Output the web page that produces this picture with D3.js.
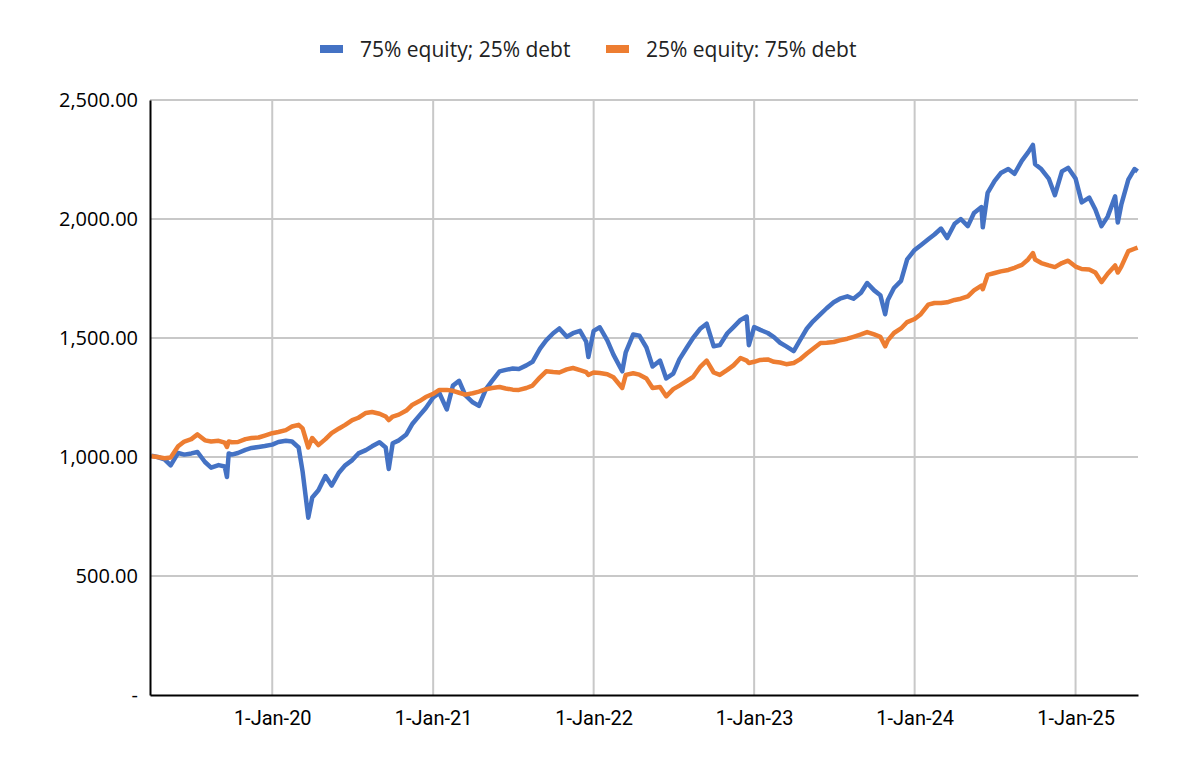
<!DOCTYPE html>
<html>
<head>
<meta charset="utf-8">
<title>Equity / debt portfolio value</title>
<script src="https://d3js.org/d3.v7.min.js"></script>
<style>
  body { margin: 0; background: #ffffff; }
  .ylab { font-family: "Open Sans", "Noto Sans", sans-serif; font-size: 20px; fill: #000; }
  .xlab { font-family: "Liberation Sans Narrow", "Roboto", sans-serif; font-size: 20px; fill: #000; }
  .leg  { font-family: "Open Sans", "Noto Sans", sans-serif; font-size: 21px; fill: #222; }
</style>
</head>
<body>
<div id="chart"></div>
<script>
// values, roughly twice a month plus a few sharp moves
var dates = [
  "2019-04-01","2019-04-15","2019-05-01","2019-05-15","2019-06-01","2019-06-15","2019-07-01","2019-07-15",
  "2019-08-01","2019-08-15","2019-09-01","2019-09-15","2019-09-20","2019-09-24","2019-10-01","2019-10-15",
  "2019-11-01","2019-11-15","2019-12-01","2019-12-15",
  "2020-01-01","2020-01-15","2020-02-01","2020-02-15","2020-03-01","2020-03-10","2020-03-23","2020-04-01",
  "2020-04-15","2020-05-01","2020-05-15","2020-06-01","2020-06-15","2020-07-01","2020-07-15","2020-08-01",
  "2020-08-15","2020-09-01","2020-09-15","2020-09-22","2020-10-01","2020-10-15","2020-11-01","2020-11-15",
  "2020-12-01","2020-12-15",
  "2021-01-01","2021-01-15","2021-02-01","2021-02-15","2021-03-01","2021-03-15","2021-04-01","2021-04-15",
  "2021-05-01","2021-05-15","2021-06-01","2021-06-15","2021-07-01","2021-07-15","2021-08-01","2021-08-15",
  "2021-09-01","2021-09-15","2021-10-01","2021-10-15","2021-11-01","2021-11-15","2021-12-01","2021-12-15",
  "2021-12-20",
  "2022-01-01","2022-01-15","2022-02-01","2022-02-15","2022-03-07","2022-03-15","2022-04-01","2022-04-15",
  "2022-05-01","2022-05-15","2022-06-01","2022-06-15","2022-07-01","2022-07-15","2022-08-01","2022-08-15",
  "2022-09-01","2022-09-15","2022-10-01","2022-10-15","2022-11-01","2022-11-15","2022-12-01","2022-12-15",
  "2022-12-20",
  "2023-01-01","2023-01-15","2023-02-01","2023-02-15","2023-03-01","2023-03-15","2023-04-01","2023-04-15",
  "2023-05-01","2023-05-15","2023-06-01","2023-06-15","2023-07-01","2023-07-15","2023-08-01","2023-08-15",
  "2023-09-01","2023-09-15","2023-10-01","2023-10-15","2023-10-26","2023-11-01","2023-11-15","2023-12-01",
  "2023-12-15",
  "2024-01-01","2024-01-15","2024-02-01","2024-02-15","2024-03-01","2024-03-15","2024-04-01","2024-04-15",
  "2024-05-01","2024-05-15","2024-06-01","2024-06-04","2024-06-15","2024-07-01","2024-07-15","2024-08-01",
  "2024-08-15","2024-09-01","2024-09-15","2024-09-26","2024-10-01","2024-10-15","2024-11-01","2024-11-15",
  "2024-12-01","2024-12-15",
  "2025-01-01","2025-01-15","2025-02-01","2025-02-15","2025-03-01","2025-03-15","2025-04-01","2025-04-07",
  "2025-04-15","2025-05-01","2025-05-15","2025-05-22"
];

var equity75 = [
  1005,1000,990,965,1017,1010,1015,1021,
  979,955,966,960,916,1015,1010,1017,
  1030,1038,1042,1046,
  1052,1063,1068,1065,1040,940,745,830,
  860,920,880,935,965,987,1015,1029,
  1045,1062,1040,950,1058,1070,1095,1140,
  1175,1205,
  1250,1269,1200,1300,1320,1260,1230,1215,
  1285,1320,1360,1366,1372,1370,1385,1400,
  1455,1490,1520,1540,1505,1520,1530,1485,
  1420,
  1530,1545,1490,1430,1360,1440,1515,1510,
  1460,1380,1405,1330,1350,1410,1460,1500,
  1540,1560,1465,1470,1520,1546,1576,1590,
  1470,
  1546,1534,1521,1504,1480,1465,1445,1490,
  1540,1570,1600,1625,1650,1665,1675,1665,
  1690,1731,1700,1680,1600,1660,1710,1740,
  1830,
  1870,1890,1915,1935,1960,1920,1980,2000,
  1970,2025,2050,1965,2110,2160,2193,2210,
  2190,2245,2280,2311,2230,2210,2170,2100,
  2200,2215,
  2170,2070,2090,2040,1970,2010,2095,1985,
  2060,2165,2210,2200
];

var equity25 = [
  1003,1000,995,998,1045,1065,1075,1095,
  1070,1065,1068,1060,1042,1065,1062,1063,
  1075,1080,1082,1090,
  1100,1105,1113,1128,1135,1120,1040,1080,
  1050,1075,1100,1120,1135,1155,1165,1185,
  1189,1182,1170,1155,1170,1178,1195,1220,
  1235,1252,
  1265,1282,1282,1278,1270,1262,1268,1275,
  1285,1290,1294,1288,1283,1282,1290,1300,
  1335,1360,1357,1355,1368,1374,1365,1357,
  1345,
  1355,1353,1348,1335,1290,1345,1352,1346,
  1330,1290,1294,1255,1285,1300,1320,1336,
  1380,1405,1355,1345,1366,1385,1416,1405,
  1395,
  1400,1408,1410,1400,1397,1390,1395,1410,
  1435,1455,1479,1480,1483,1490,1497,1505,
  1515,1525,1515,1505,1465,1490,1521,1540,
  1567,
  1580,1600,1640,1647,1647,1650,1660,1665,
  1675,1700,1720,1705,1765,1773,1780,1786,
  1795,1807,1830,1857,1830,1815,1805,1798,
  1815,1825,
  1800,1790,1788,1775,1735,1770,1805,1775,
  1800,1865,1875,1880
];

var seriesNames = ["75% equity; 25% debt", "25% equity: 75% debt"];
var seriesColors = ["#4472C4", "#ED7D31"];
var yTicks = [0, 500, 1000, 1500, 2000, 2500];
var xTicks = ["2020-01-01", "2021-01-01", "2022-01-01", "2023-01-01", "2024-01-01", "2025-01-01"];

var W = 1177, H = 770;
var margin = { left: 150, right: 39, top: 100, bottom: 75 };
var parse = d3.timeParse("%Y-%m-%d");

var svg = d3.select("#chart").append("svg")
  .attr("width", W)
  .attr("height", H);

var x = d3.scaleTime()
  .domain([parse("2019-03-29"), parse("2025-05-23")])
  .range([margin.left, W - margin.right]);

var y = d3.scaleLinear()
  .domain([0, 2500])
  .range([H - margin.bottom, margin.top]);

// gridlines
svg.append("g")
  .selectAll("line.hg")
  .data(yTicks.slice(1))
  .enter().append("line")
  .attr("x1", margin.left).attr("x2", W - margin.right)
  .attr("y1", function(d) { return y(d); }).attr("y2", function(d) { return y(d); })
  .attr("stroke", "#c8c8c8").attr("stroke-width", 2);

svg.append("g")
  .selectAll("line.vg")
  .data(xTicks)
  .enter().append("line")
  .attr("x1", function(d) { return x(parse(d)); }).attr("x2", function(d) { return x(parse(d)); })
  .attr("y1", margin.top).attr("y2", H - margin.bottom)
  .attr("stroke", "#c8c8c8").attr("stroke-width", 2);

// the two series
var rows = dates.map(function(d, i) {
  return { date: parse(d), a: equity75[i], b: equity25[i] };
});

var lineA = d3.line().x(function(d) { return x(d.date); }).y(function(d) { return y(d.a); });
var lineB = d3.line().x(function(d) { return x(d.date); }).y(function(d) { return y(d.b); });

svg.append("path").datum(rows)
  .attr("d", lineA)
  .attr("fill", "none")
  .attr("stroke", seriesColors[0])
  .attr("stroke-width", 4.5)
  .attr("stroke-linejoin", "round");

svg.append("path").datum(rows)
  .attr("d", lineB)
  .attr("fill", "none")
  .attr("stroke", seriesColors[1])
  .attr("stroke-width", 4.5)
  .attr("stroke-linejoin", "round");

// axes, ticks hidden, labels restyled
var yAxis = d3.axisLeft(y)
  .tickValues(yTicks)
  .tickSize(0)
  .tickPadding(12)
  .tickFormat(function(d) { return d === 0 ? "-" : d3.format(",.2f")(d); });

var gy = svg.append("g")
  .attr("transform", "translate(" + margin.left + ",0)")
  .call(yAxis);
gy.select(".domain").attr("stroke", "#000").attr("stroke-width", 2);
gy.selectAll("text").attr("class", "ylab").attr("font-family", null).attr("font-size", null);

var xAxis = d3.axisBottom(x)
  .tickValues(xTicks.map(parse))
  .tickSize(0)
  .tickPadding(16)
  .tickFormat(d3.timeFormat("%-d-%b-%y"));

var gx = svg.append("g")
  .attr("transform", "translate(0," + (H - margin.bottom) + ")")
  .call(xAxis);
gx.select(".domain").attr("stroke", "#000").attr("stroke-width", 2);
gx.selectAll("text").attr("class", "xlab").attr("font-family", null).attr("font-size", null);

// legend
var legX = [320, 606];
var leg = svg.append("g");
seriesNames.forEach(function(name, i) {
  leg.append("rect")
    .attr("x", legX[i]).attr("y", 45)
    .attr("width", 23).attr("height", 8)
    .attr("fill", seriesColors[i]);
  leg.append("text")
    .attr("class", "leg")
    .attr("x", legX[i] + 40).attr("y", 57)
    .text(name);
});
</script>
</body>
</html>
